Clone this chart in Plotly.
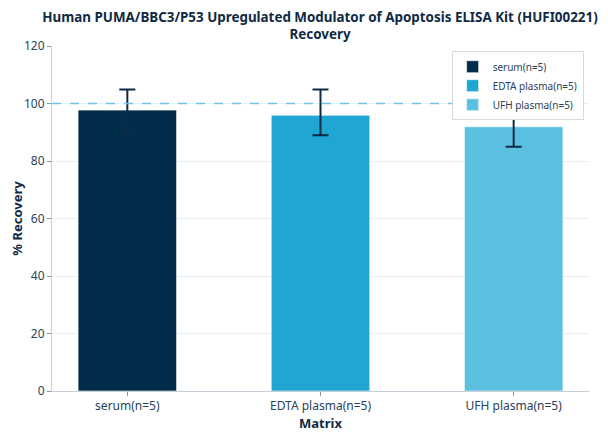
import plotly.graph_objects as go

# recovery data
categories = ["serum(n=5)", "EDTA plasma(n=5)", "UFH plasma(n=5)"]
recovery = [97.7, 95.9, 91.9]
err_plus = [7.2, 9.0, 14.0]
err_minus = [7.2, 6.9, 6.9]
colors = ["#022c4b", "#1fa6d3", "#5bbfe0"]

title_text = "Human PUMA/BBC3/P53 Upregulated Modulator of Apoptosis ELISA Kit (HUFI00221)<br>Recovery"
font_family = "Noto Sans"
dark = "#0f2a44"

fig = go.Figure()
for i, cat in enumerate(categories):
    fig.add_bar(
        x=[cat],
        y=[recovery[i]],
        name=cat,
        marker=dict(color=colors[i], line=dict(color="rgba(255,255,255,0.6)", width=1)),
        width=0.51,
        error_y=dict(
            type="data",
            symmetric=False,
            array=[err_plus[i]],
            arrayminus=[err_minus[i]],
            color=dark,
            thickness=2,
            width=8,
        ),
    )

# reference line at 100 %
fig.add_hline(y=100, line=dict(color="#6fc3e6", width=1.5, dash="dash"), layer="above")

# page body adds ~8px offset, so the figure is a bit smaller than the window
fig.update_layout(
    width=600,
    height=427,
    barmode="overlay",
    plot_bgcolor="white",
    paper_bgcolor="white",
    margin=dict(l=44, r=19, t=38, b=44, autoexpand=False),
    font=dict(family=font_family, size=12, color="#2a3f5a"),
    title=dict(
        text=title_text,
        x=0.52,
        xanchor="center",
        y=0.968,
        yanchor="top",
        font=dict(family=font_family, size=13.4, color=dark, weight="bold"),
    ),
    legend=dict(
        x=0.99,
        y=0.985,
        xanchor="right",
        yanchor="top",
        bgcolor="white",
        bordercolor="#d3dbe3",
        borderwidth=1,
        font=dict(size=10, color="#2a3f5a"),
        tracegroupgap=0,
        itemwidth=30,
    ),
    showlegend=True,
)

fig.update_xaxes(
    title=dict(text="Matrix", font=dict(size=13, color=dark, weight="bold"), standoff=2),
    automargin=False,
    range=[-0.39, 2.39],
    showline=True,
    linecolor="#c5d0db",
    linewidth=1,
    ticks="outside",
    tickcolor="#8a96a3",
    ticklen=4,
    showgrid=False,
    tickfont=dict(size=12, color="#2a3f5a"),
)
fig.update_yaxes(
    title=dict(text="% Recovery", font=dict(size=13, color=dark, weight="bold"), standoff=4),
    automargin=False,
    range=[0, 120],
    dtick=20,
    showline=True,
    linecolor="#c5d0db",
    linewidth=1,
    ticks="outside",
    tickcolor="#8a96a3",
    ticklen=4,
    showgrid=True,
    gridcolor="#e6edf3",
    zeroline=False,
    tickfont=dict(size=12, color="#2a3f5a"),
)

fig.write_html("out.html")
